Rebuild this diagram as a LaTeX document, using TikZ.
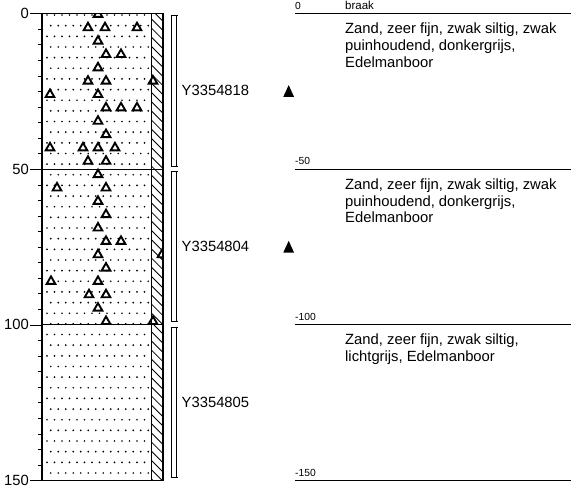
\documentclass[tikz,border=0pt]{standalone}
\usepackage{fontspec}
\setmainfont{Liberation Sans}
\usetikzlibrary{shapes.geometric}
\tikzstyle{grit} = [
    draw,
    fill=white,
    regular polygon,
    regular polygon sides=3,
    minimum size=10pt,
    inner sep=0pt,
    line width=1.9pt]
\tikzstyle{layerline} = [line width=1.2pt]
\tikzstyle{descr} = [anchor=north west, inner sep=0pt, align=left, font=\big]
\tikzstyle{depth} = [anchor=base west, inner sep=0pt, font=\fontsize{10.3}{12}\selectfont]
\def\big{\fontsize{14.8}{16.7}\selectfont}
\def\Zand{Zand, zeer fijn, zwak siltig}

\begin{document}
\begin{tikzpicture}[x=1pt,y=-1pt]
        \useasboundingbox (0,0) rectangle (571,488);

        \foreach \k in {0,...,43}
            \foreach \i in {0,...,13}
                \fill ({47+7.5*\i+3.75*mod(\k,2)},{15+10.65*\k}) circle (0.95);

        \begin{scope}
            \clip (151,13.5) rectangle (163,480.5);
            \foreach \n in {-2,...,54}
                \draw[line width=0.85pt] (151,{9.2*\n}) -- (163,{9.2*\n+12});
        \end{scope}

        \begin{scope}
            \clip (42,13.5) rectangle (163,480.5);
            \foreach \x/\k in {98/0, 88/1, 105/1, 137/1, 98/2, 106/3, 121/3, 98/4,
                    88/5, 106/5, 153/5, 50/6, 98/6, 106/7, 121/7, 137/7, 98/8, 106/9,
                    50/10, 83/10, 98/10, 115/10, 88/11, 106/11, 98/12, 57/13, 106/13,
                    98/14, 106/15, 98/16, 106/17, 121/17, 98/18, 162/18, 106/19,
                    51/20, 98/20, 89/21, 106/21, 98/22, 106/23, 153/23}
                \node[grit] (g\k-\x) at (\x,{14.4+13.35*\k}) {};
        \end{scope}

        \draw[line width=1.2pt] (42,13.5) rectangle (163,480.5);
        \draw[line width=0.9pt] (151,13.5) -- (151,480.5);
        \draw[line width=1.1pt] (42,169.2) -- (163,169.2) (42,324.8) -- (163,324.8);

        \foreach \d in {0,5,...,150}
            \draw (37.5,{13.5+3.113*\d}) -- (42,{13.5+3.113*\d});
        \foreach \d in {0,50,100,150} {
            \draw (30,{13.5+3.113*\d}) -- (42,{13.5+3.113*\d});
            \node[anchor=east, inner sep=0pt, font=\big] (t\d) at (29,{13.5+3.113*\d}) {\d};
        }

        \foreach \t/\b/\s [count=\c] in {15.5/166/Y3354818, 171.5/321.7/Y3354804, 327/477/Y3354805} {
            \draw[line width=0.9pt] (171,\t) rectangle (176,\b);
            \draw[line width=0.9pt] (170.5,\t) -- (177.5,\t) (170.5,\b) -- (177.5,\b);
            \node[anchor=west, inner sep=0pt, font=\big] (s\c) at (181.5,{(\t+\b)/2}) {\s};
        }
        \foreach \y in {91,246.7}
            \fill (283.3,\y+5.8) -- (294,\y+5.8) -- (288.7,\y-5.9) -- cycle;

        \foreach \y/\l in {13.5/0, 169.2/-50, 324.8/-100, 480.5/-150} {
            \draw[layerline] (295,\y) -- (571,\y);
            \node[depth] (d\y) at (295,\y-4.3) {\l};
        }
        \node[anchor=base west, inner sep=0pt, font=\fontsize{11.5}{13}\selectfont] (braak) at (345,9) {braak};
        \node[descr] (L1) at (345,22.7) {\Zand, zwak\\puinhoudend, donkergrijs,\\Edelmanboor};
        \node[descr] (L2) at (345,178.4) {\Zand, zwak\\puinhoudend, donkergrijs,\\Edelmanboor};
        \node[descr] (L3) at (345,334) {\Zand,\\lichtgrijs, Edelmanboor};
    \end{tikzpicture}
\end{document}
